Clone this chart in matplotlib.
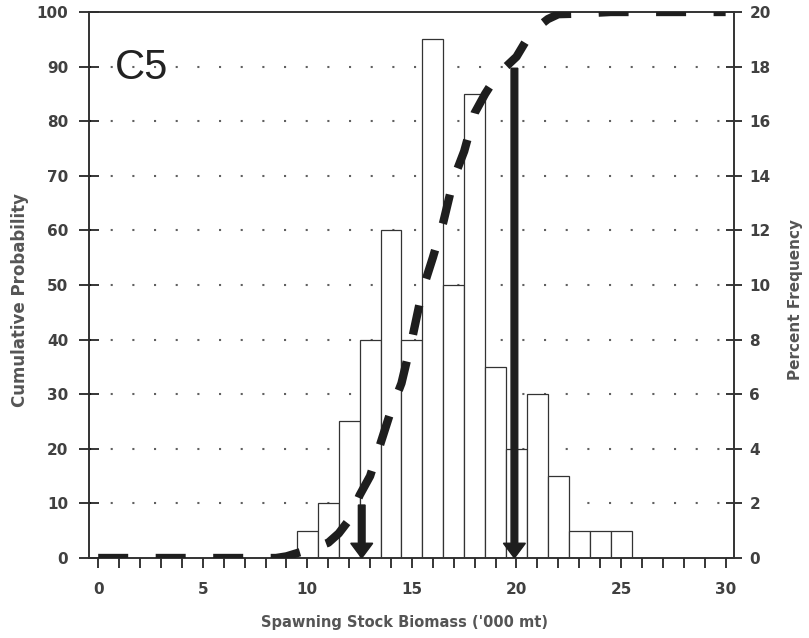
import numpy as np
import matplotlib
matplotlib.use("Agg")
import matplotlib.pyplot as plt
from matplotlib.ticker import MultipleLocator

# histogram of spawning stock biomass ('000 mt), percent frequency per 1-unit bin
bin_centers = [10, 11, 12, 13, 14, 15, 16, 17, 18, 19, 20, 21, 22, 23, 24, 25]
pct_freq = [1, 2, 5, 8, 12, 8, 19, 10, 17, 7, 4, 6, 3, 1, 1, 1]

# cumulative probability curve
cum_x = [0, 8.5, 9.0, 9.6, 10.3, 11.0, 11.5, 12.0, 12.5, 13.0, 13.5, 14.0, 14.5,
         15.0, 15.5, 16.0, 16.5, 17.0, 17.5, 18.0, 18.5, 19.0, 19.5, 20.0,
         20.5, 21.0, 21.5, 22.0, 23.0, 24.5, 30]
cum_y = [0, 0, 0.3, 1.0, 1.8, 2.8, 4.5, 7.0, 11.5, 15.0, 21.0, 27.0, 32.0,
         40.0, 49.0, 55.0, 61.5, 69.5, 74.5, 81.5, 85.0, 88.0, 90.0, 91.8,
         95.0, 97.2, 98.7, 99.6, 99.7, 100, 100]

# arrows marking the percentiles
arrow_x = [12.6, 19.9]
arrow_top = [9.7, 89.7]

panel_label = "C5"

ink = "#1e1e1e"
txt = "#404040"

fig = plt.figure(figsize=(8.09, 6.38), dpi=100)
ax = fig.add_axes([0.110, 0.1254, 0.7973, 0.8558])
ax2 = ax.twinx()
ax.set_zorder(2)
ax2.set_zorder(1)
ax.patch.set_visible(False)

# dotted horizontal guides (behind the bars)
for yv in range(2, 20, 2):
    ax2.axhline(yv, color="#606060", lw=1.5, linestyle=(0, (1, 9.4)), zorder=0)

ax2.bar(bin_centers, pct_freq, width=1.0, color="white", edgecolor="#333333",
        linewidth=0.9, zorder=2)

ax.plot(cum_x, cum_y, color=ink, lw=6, linestyle=(0, (3.6, 3.3)),
        dash_capstyle="butt", solid_capstyle="butt", zorder=3)

for xa, ya in zip(arrow_x, arrow_top):
    ax.arrow(xa, ya, 0, -ya, width=0.32, head_width=1.05, head_length=2.7,
             length_includes_head=True, color=ink, zorder=4)

ax.text(0.8, 89.8, panel_label, fontsize=30, family="Liberation Sans",
        color="#222222", ha="left", va="center", zorder=5)

ax.set_xlim(-0.44, 30.4)
ax.set_ylim(0, 100)
ax2.set_ylim(0, 20)

ax.xaxis.set_major_locator(MultipleLocator(5))
ax.xaxis.set_minor_locator(MultipleLocator(1))
ax.yaxis.set_major_locator(MultipleLocator(10))
ax2.yaxis.set_major_locator(MultipleLocator(2))

ax.tick_params(axis="x", which="both", direction="out", length=7, width=1.1,
               pad=10, labelsize=11, labelcolor=txt)
ax.tick_params(axis="y", direction="inout", length=14, width=1.1, pad=8,
               labelsize=11, labelcolor=txt)
ax2.tick_params(axis="y", direction="inout", length=12, width=1.1, pad=5,
                labelsize=11, labelcolor=txt)
for lab in ax.get_xticklabels() + ax.get_yticklabels() + ax2.get_yticklabels():
    lab.set_fontweight("bold")

for a in (ax, ax2):
    for s in a.spines.values():
        s.set_linewidth(1.2)
        s.set_color("#333333")

fig.text(0.025, 0.53, "Cumulative Probability", rotation=90, ha="center",
         va="center", fontsize=12, fontweight="bold", color="#555555")
fig.text(0.983, 0.53, "Percent Frequency", rotation=90, ha="center",
         va="center", fontsize=11, fontweight="bold", color="#555555")
fig.text(0.50, 0.025, "Spawning Stock Biomass ('000 mt)", ha="center",
         va="center", fontsize=10.5, fontweight="bold", color="#555555")

fig.savefig("out.png", dpi=100, facecolor="white")
